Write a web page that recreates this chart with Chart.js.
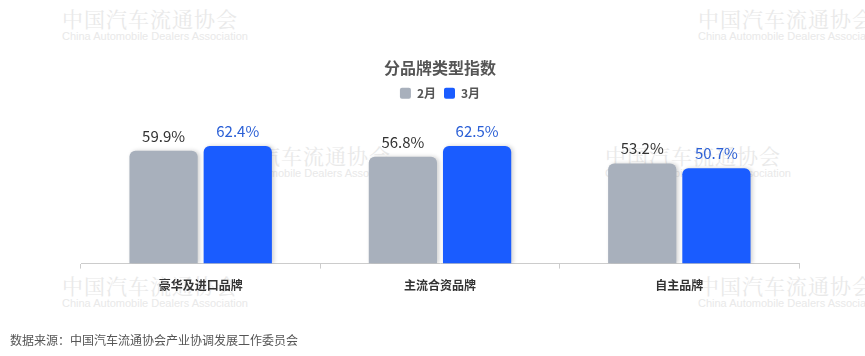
<!DOCTYPE html>
<html>
<head>
<meta charset="utf-8">
<script src="https://cdn.jsdelivr.net/npm/chart.js@4.4.0/dist/chart.umd.min.js"></script>
<style>
  html, body { margin: 0; padding: 0; background: #fff; }
  #wrap { position: relative; width: 865px; height: 356px; overflow: hidden; font-family: "Noto Sans CJK SC", "Noto Sans", sans-serif; }
  canvas { position: absolute; left: 0; top: 0; }
  .wm { position: absolute; color: #e9e9e9; white-space: nowrap; }
  .wm .cn { font-family: "Noto Serif CJK SC", "Noto Sans CJK SC", serif; font-size: 21px; letter-spacing: 1px; line-height: 24px; }
  .wm .en { font-size: 11px; line-height: 12px; font-family: "Liberation Sans", sans-serif; }
  #src { position: absolute; left: 10px; top: 331px; font-size: 12px; color: #555; }
</style>
</head>
<body>
<div id="wrap">
  <div class="wm" style="left:62px;top:6px"><div class="cn">中国汽车流通协会</div><div class="en">China Automobile Dealers Association</div></div>
  <div class="wm" style="left:698px;top:6px"><div class="cn">中国汽车流通协会</div><div class="en">China Automobile Dealers Association</div></div>
  <div class="wm" style="left:215px;top:143px"><div class="cn">中国汽车流通协会</div><div class="en">China Automobile Dealers Association</div></div>
  <div class="wm" style="left:605px;top:143px"><div class="cn">中国汽车流通协会</div><div class="en">China Automobile Dealers Association</div></div>
  <div class="wm" style="left:62px;top:273px"><div class="cn">中国汽车流通协会</div><div class="en">China Automobile Dealers Association</div></div>
  <div class="wm" style="left:698px;top:273px"><div class="cn">中国汽车流通协会</div><div class="en">China Automobile Dealers Association</div></div>
  <canvas id="c" width="865" height="356"></canvas>
  <div id="src">数据来源：中国汽车流通协会产业协调发展工作委员会</div>
</div>
<script>
const categories = ["豪华及进口品牌", "主流合资品牌", "自主品牌"];
const seriesNames = ["2月", "3月"];
const febValues = [59.9, 56.8, 53.2];
const marValues = [62.4, 62.5, 50.7];

const FONT = '"Noto Sans CJK SC", "Noto Sans", sans-serif';
const colors = ["#a8b0bc", "#1a5cff"];
const labelColors = ["#333333", "#2a5fd6"];

const shadowPlugin = {
  id: 'barShadow',
  beforeDatasetsDraw(chart) {
    const ctx = chart.ctx;
    ctx.save();
    ctx.shadowColor = 'rgba(0,0,0,0.18)';
    ctx.shadowBlur = 4;
    ctx.shadowOffsetX = 2;
    ctx.shadowOffsetY = 0;
  },
  afterDatasetsDraw(chart) {
    chart.ctx.restore();
  }
};

const valueLabels = {
  id: 'valueLabels',
  afterDraw(chart) {
    const ctx = chart.ctx;
    ctx.save();
    ctx.font = '15px ' + FONT;
    ctx.textAlign = 'center';
    ctx.textBaseline = 'alphabetic';
    chart.data.datasets.forEach((ds, i) => {
      const meta = chart.getDatasetMeta(i);
      ctx.fillStyle = labelColors[i];
      meta.data.forEach((bar, j) => {
        ctx.fillText(ds.data[j].toFixed(1) + '%', bar.x, bar.y - 9);
      });
    });
    ctx.restore();
  }
};

new Chart(document.getElementById('c'), {
  type: 'bar',
  data: {
    labels: categories,
    datasets: [
      { label: seriesNames[0], data: febValues, backgroundColor: colors[0], borderRadius: { topLeft: 6, topRight: 6 }, borderSkipped: 'bottom' },
      { label: seriesNames[1], data: marValues, backgroundColor: colors[1], borderRadius: { topLeft: 6, topRight: 6 }, borderSkipped: 'bottom' }
    ]
  },
  options: {
    responsive: false,
    animation: false,
    devicePixelRatio: 1,
    layout: { padding: { left: 81, right: 66, top: 58, bottom: 53 } },
    datasets: { bar: { categoryPercentage: 0.62, barPercentage: 0.92 } },
    plugins: {
      title: {
        display: true,
        text: '分品牌类型指数',
        color: '#555555',
        font: { family: FONT, size: 16, weight: 'bold' },
        padding: { top: 0, bottom: 2 }
      },
      legend: {
        display: true,
        labels: {
          boxWidth: 11, boxHeight: 11, useBorderRadius: true, borderRadius: 2,
          padding: 8,
          color: '#555555',
          font: { family: FONT, size: 12, weight: 'bold' }
        }
      },
      tooltip: { enabled: false }
    },
    scales: {
      x: {
        offset: true,
        grid: { offset: true, drawOnChartArea: false, drawTicks: true, tickLength: 5, color: '#cccccc' },
        border: { display: true, color: '#cccccc', width: 1 },
        ticks: { color: '#333333', padding: 10, font: { family: FONT, size: 12, weight: 'bold' } }
      },
      y: {
        display: false,
        min: 0,
        max: 82
      }
    }
  },
  plugins: [shadowPlugin, valueLabels]
});
</script>
</body>
</html>
